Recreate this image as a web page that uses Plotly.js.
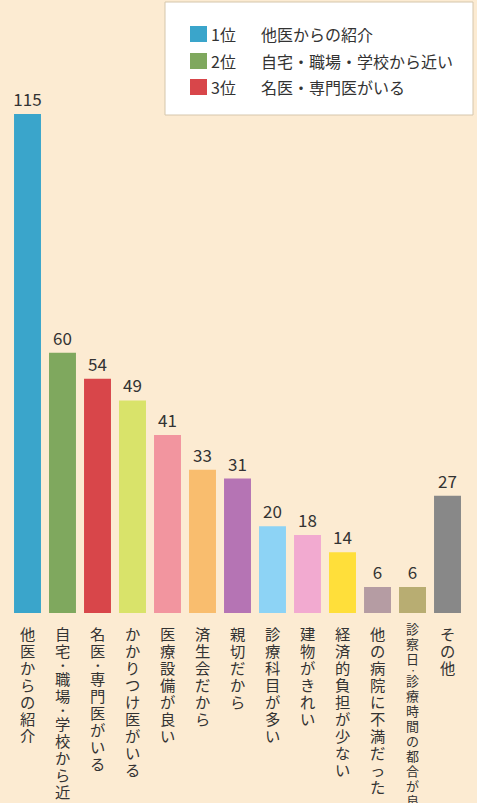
<!DOCTYPE html>
<html><head><meta charset="utf-8">
<script src="https://cdn.plot.ly/plotly-3.0.1.min.js"></script>
<style>html,body{margin:0;padding:0;background:#FCEBD2;} #chart{width:477px;height:803px;}</style>
</head><body><div id="chart"></div>
<script>
const categories = ["他医からの紹介","自宅・職場・学校から近い","名医・専門医がいる","かかりつけ医がいる","医療設備が良い","済生会だから","親切だから","診療科目が多い","建物がきれい","経済的負担が少ない","他の病院に不満だった","診察日・診療時間の都合が良い","その他"];
const counts = [115,60,54,49,41,33,31,20,18,14,6,6,27];
const barColors = ["#3AA5CB","#7FA85E","#D8464A","#D9E36A","#F2959F","#F9BD6E","#B574B4","#8DD3F5","#F2AAD0","#FFDF3A","#B59CA3","#B8AD72","#888888"];
const legendRanks = ["1位","2位","3位"];
const legendLabels = ["他医からの紹介","自宅・職場・学校から近い","名医・専門医がいる"];

const FONT = '"Noto Sans CJK JP", "Noto Sans", sans-serif';
// compact line metrics (Liberation Serif) with Japanese glyphs from Noto Sans CJK JP
const VFONT = '"Liberation Serif", "Noto Sans CJK JP", sans-serif';
const BG = "#FCEBD2";
const W = 477, H = 803, M = {l:10, r:12, t:49, b:190};
const pw = W - M.l - M.r, ph = H - M.t - M.b;
const xp = px => (px - M.l) / pw;
const yp = py => (H - M.b - py) / ph;

const annotations = [];
const shapes = [];

// vertical category labels, one character per text, stacked top to bottom
categories.forEach((cat, i) => {
  const chars = [...cat];
  const small = chars.length > 12;
  const fs = small ? 13 : 15.3, dfs = small ? 6.2 : 9.6;
  const cell = small ? 15 : 17, dotCell = small ? 7 : 11;
  let off = (small ? 16.5 : 21.2) - cell / 2;
  chars.forEach(ch => {
    const isDot = ch === "・";
    const h = isDot ? dotCell : cell;
    annotations.push({x: i, y: 0, xref: "x", yref: "y", text: ch, showarrow: false,
      xanchor: "center", yanchor: "middle", yshift: -(off + h / 2),
      borderpad: 0, borderwidth: 0,
      font: {family: VFONT, size: isDot ? dfs : fs, color: "#333", weight: isDot ? 700 : 400}});
    off += h;
  });
});

// legend box
shapes.push({type: "rect", xref: "paper", yref: "paper", x0: xp(165), x1: xp(473), y0: yp(2), y1: yp(115),
  fillcolor: "#FFFFFF", line: {color: "#D5C6AC", width: 1}, layer: "above"});
const rowY = [34, 61, 87];
legendRanks.forEach((r, k) => {
  shapes.push({type: "rect", xref: "paper", yref: "paper", x0: xp(190), x1: xp(207), y0: yp(rowY[k] + 8), y1: yp(rowY[k] - 8),
    fillcolor: barColors[k], line: {width: 0}, layer: "above"});
  annotations.push({xref: "paper", yref: "paper", x: xp(209), y: yp(rowY[k]), text: r, showarrow: false,
    xanchor: "left", yanchor: "middle", font: {family: FONT, size: 16, color: "#333"}});
  annotations.push({xref: "paper", yref: "paper", x: xp(259), y: yp(rowY[k]), text: legendLabels[k], showarrow: false,
    xanchor: "left", yanchor: "middle", font: {family: FONT, size: 16, color: "#333"}});
});

const trace = {
  type: "bar",
  x: categories.map((c, i) => i),
  y: counts,
  marker: {color: barColors, line: {width: 0}},
  text: counts.map(String),
  textposition: "outside",
  constraintext: "none",
  cliponaxis: false,
  textfont: {family: FONT, size: 17, color: "#333"},
  hoverinfo: "none"
};

const layout = {
  width: W, height: H,
  margin: M,
  paper_bgcolor: BG, plot_bgcolor: BG,
  bargap: 0.23,
  showlegend: false,
  xaxis: {range: [-0.5, 12.5], showticklabels: false, showgrid: false, zeroline: false, showline: false, ticks: "", fixedrange: true},
  yaxis: {range: [0, 130], visible: false, showgrid: false, zeroline: false, fixedrange: true},
  annotations: annotations,
  shapes: shapes
};

Plotly.newPlot("chart", [trace], layout, {displayModeBar: false, staticPlot: true});
</script>
</body></html>
